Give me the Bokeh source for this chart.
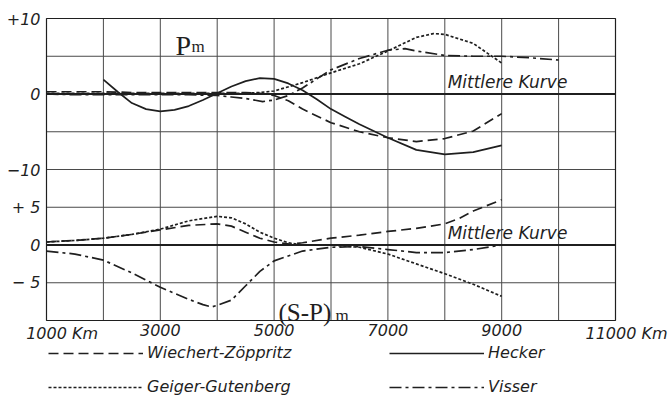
from bokeh.plotting import figure
from bokeh.models import Legend, LegendItem, Range1d
from bokeh.core.properties import value
from bokeh.embed import file_html
from bokeh.resources import INLINE

# ---------------- data ----------------
# distance in km, residuals; upper panel P_m, lower panel (S-P)_m
km_wz_up = [1000, 1500, 2000, 2500, 3000, 3500, 4000, 4500, 4750, 5000, 5250, 5500,
            6000, 6500, 7000, 7500, 8000, 8500, 9000]
wz_up = [0.3, 0.3, 0.3, 0.2, 0.2, 0.2, 0.2, 0.2, 0.1, -0.2, -0.9, -2.0,
         -3.8, -5.0, -5.8, -6.3, -5.9, -4.9, -2.6]

km_gg_up = [1000, 1500, 2000, 2500, 3000, 3500, 4000, 4500, 4750, 5000, 5500, 6000,
            6500, 7000, 7500, 7800, 8000, 8500, 9000]
gg_up = [0.1, 0.1, 0.1, 0.1, 0.1, 0.1, 0.1, 0.1, 0.2, 0.4, 1.5, 2.8,
         4.0, 5.7, 7.5, 8.0, 7.9, 6.7, 4.1]

km_vi_up = [1000, 1500, 2000, 2500, 3000, 3500, 4000, 4250, 4500, 4800, 5000, 5250,
            5500, 5750, 6000, 6500, 7000, 7300, 7500, 8000, 8500, 9000, 9500, 10000]
vi_up = [0.0, -0.1, -0.1, -0.1, -0.1, -0.1, -0.2, -0.4, -0.6, -1.0, -0.8, -0.2,
         0.8, 2.0, 3.2, 4.7, 5.8, 6.0, 5.7, 5.1, 5.0, 5.0, 4.8, 4.5]

km_hk_up = [2000, 2250, 2500, 2750, 3000, 3250, 3500, 3750, 4000, 4250, 4500, 4750,
            5000, 5250, 5500, 5750, 6000, 6250, 6500, 7000, 7500, 8000, 8500, 9000]
hk_up = [1.9, 0.3, -1.2, -2.0, -2.3, -2.1, -1.6, -0.8, 0.1, 1.0, 1.7, 2.1,
         2.0, 1.4, 0.5, -0.7, -2.0, -3.0, -4.0, -5.8, -7.4, -8.0, -7.7, -6.8]

km_wz_lo = [1000, 1500, 2000, 2500, 3000, 3500, 4000, 4250, 4500, 4750, 5000, 5300,
            5500, 6000, 6500, 7000, 7500, 8000, 8250, 8500, 9000]
wz_lo = [0.4, 0.6, 0.9, 1.4, 2.0, 2.6, 2.8, 2.5, 1.7, 0.9, 0.4, 0.1,
         0.3, 0.9, 1.3, 1.8, 2.2, 2.8, 3.5, 4.5, 6.0]

km_gg_lo = [1000, 1500, 2000, 2500, 3000, 3500, 4000, 4250, 4500, 4750, 5000, 5250,
            5500, 6000, 6500, 7000, 7500, 8000, 8500, 9000]
gg_lo = [0.4, 0.6, 0.9, 1.4, 2.1, 3.2, 3.8, 3.6, 2.8, 1.7, 0.9, 0.3,
         0.0, 0.0, -0.3, -1.2, -2.5, -3.8, -5.2, -6.8]

km_vi_lo = [1000, 1500, 2000, 2500, 3000, 3500, 3750, 3900, 4000, 4250, 4500, 4750,
            5000, 5500, 6000, 6500, 7000, 7500, 8000, 8500, 9000]
vi_lo = [-0.8, -1.2, -2.0, -3.7, -5.6, -7.2, -7.9, -8.2, -8.0, -7.3, -5.4, -3.5,
         -2.1, -0.8, -0.3, -0.2, -0.6, -1.0, -1.0, -0.6, 0.0]

x_tick_vals = [1000, 3000, 5000, 7000, 9000, 11000]
x_tick_labels = ["1000 Km", "3000", "5000", "7000", "9000", "11000 Km"]
y_tick_vals = [30, 20, 10, 5, 0, -5]
y_tick_labels = ["+10", "0", "\u221210", "+ 5", "0", "\u2212 5"]

series_names = ["Wiechert-Zöppritz", "Geiger-Gutenberg", "Hecker", "Visser"]
mean_label = "Mittlere Kurve"

# ---------------- layout constants ----------------
W, H = 671, 401
FRAME_L, FRAME_R, FRAME_T, FRAME_B = 46, 615, 18, 320   # chart box in pixels
X0, X1 = 1000, 11000      # km at the box edges
Y0, Y1 = -10, 30          # shared vertical scale (upper panel shifted by UP)
UP = 20
PXK = (FRAME_R - FRAME_L) / (X1 - X0)
PXY = (FRAME_B - FRAME_T) / (Y1 - Y0)
INK = "#1f1f1f"
GRID = "#4a4a4a"
FONT = "DejaVu Sans"

p = figure(width=W, height=H,
           x_range=Range1d(X0 - FRAME_L / PXK, X1 + (W - FRAME_R) / PXK),
           y_range=Range1d(Y0 - (H - FRAME_B) / PXY, Y1 + FRAME_T / PXY),
           output_backend="svg", toolbar_location=None,
           x_axis_type=None, y_axis_type=None,
           min_border_left=0, min_border_right=0, min_border_top=0, min_border_bottom=0)
p.background_fill_color = "white"
p.border_fill_color = "white"
p.outline_line_color = None

# grid lines and box (only over the chart area)
gx = list(range(X0 + 1000, X1, 1000))
gy = list(range(Y0 + 5, Y1, 5))
p.segment(x0=gx, y0=[Y0] * len(gx), x1=gx, y1=[Y1] * len(gx), line_color=GRID, line_width=1)
p.segment(x0=[X0] * len(gy), y0=gy, x1=[X1] * len(gy), y1=gy, line_color=GRID, line_width=1)
p.quad(left=[X0], right=[X1], bottom=[Y0], top=[Y1], fill_color=None, line_color=INK, line_width=1.2)

# y tick labels
p.text(x=[X0] * len(y_tick_vals), y=y_tick_vals, text=y_tick_labels, x_offset=-6,
       text_align="right", text_baseline="middle", text_font=value(FONT),
       text_font_style="italic", text_font_size="16px", text_color=INK)

# mean curves (zero lines)
p.segment(x0=[X0, X0], y0=[UP, 0], x1=[X1, X1], y1=[UP, 0], line_color=INK, line_width=2)

LW = 1.7
r_wz = p.line(km_wz_up, [v + UP for v in wz_up], line_color=INK, line_width=LW, line_dash="10 5")
r_gg = p.line(km_gg_up, [v + UP for v in gg_up], line_color=INK, line_width=LW, line_dash="3 2")
r_hk = p.line(km_hk_up, [v + UP for v in hk_up], line_color=INK, line_width=LW)
r_vi = p.line(km_vi_up, [v + UP for v in vi_up], line_color=INK, line_width=LW, line_dash="12 4 3 4")
p.line(km_wz_lo, wz_lo, line_color=INK, line_width=LW, line_dash="10 5")
p.line(km_gg_lo, gg_lo, line_color=INK, line_width=LW, line_dash="3 2")
p.line(km_vi_lo, vi_lo, line_color=INK, line_width=LW, line_dash="12 4 3 4")

# mean curve labels and panel titles
p.text(x=[8050, 8050], y=[UP, 0], text=[mean_label, mean_label], text_font=value(FONT),
       text_font_style="italic", text_font_size="17px", text_color=INK,
       text_baseline="bottom", text_align="left", y_offset=-2)
p.text(x=[3267], y=[26.4], text=["P"], text_font=value("Liberation Serif"),
       text_font_size="28px", text_color=INK, text_baseline="alphabetic")
p.text(x=[3550], y=[26.3], text=["m"], text_font=value("Liberation Serif"),
       text_font_size="17px", text_color=INK, text_baseline="alphabetic")
p.text(x=[5077], y=[-8.94], text=["(S-P)"], text_font=value("Liberation Serif"),
       text_font_size="25px", text_color=INK, text_baseline="alphabetic")
p.text(x=[6079], y=[-9.4], text=["m"], text_font=value("Liberation Serif"),
       text_font_size="17px", text_color=INK, text_baseline="alphabetic")

# x tick labels: number centred on its grid line, unit trailing to the right
FS_X = 16
cw = {" ": 0.318, "K": 0.656, "m": 0.974}
offs = []
for xv, lab in zip(x_tick_vals, x_tick_labels):
    num = lab.split(" ")[0]
    half = len(num) * 0.636 * FS_X / 2
    total = sum(cw.get(c, 0.636) for c in lab) * FS_X + 2
    room = (W - 2) - (FRAME_L + (xv - X0) * PXK) - total
    offs.append(min(-half, room))
p.text(x=x_tick_vals, y=[Y0] * len(x_tick_vals), text=x_tick_labels, x_offset=offs,
       y_offset=3, text_baseline="top", text_align="left", text_font=value(FONT),
       text_font_style="italic", text_font_size=f"{FS_X}px", text_color=INK)

legend = Legend(items=[LegendItem(label=series_names[0], renderers=[r_wz]),
                       LegendItem(label=series_names[1], renderers=[r_gg]),
                       LegendItem(label=series_names[2], renderers=[r_hk]),
                       LegendItem(label=series_names[3], renderers=[r_vi])],
                location=(48, 5), orientation="vertical", ncols=2,
                glyph_width=95, glyph_height=12, label_height=12, label_width=227,
                label_standoff=4, spacing=15, padding=0, margin=0,
                border_line_color=None, background_fill_alpha=0,
                label_text_font=FONT, label_text_font_style="italic",
                label_text_font_size="16px", label_text_color=INK)
p.add_layout(legend)

open("out.html", "w").write(file_html(p, INLINE))
